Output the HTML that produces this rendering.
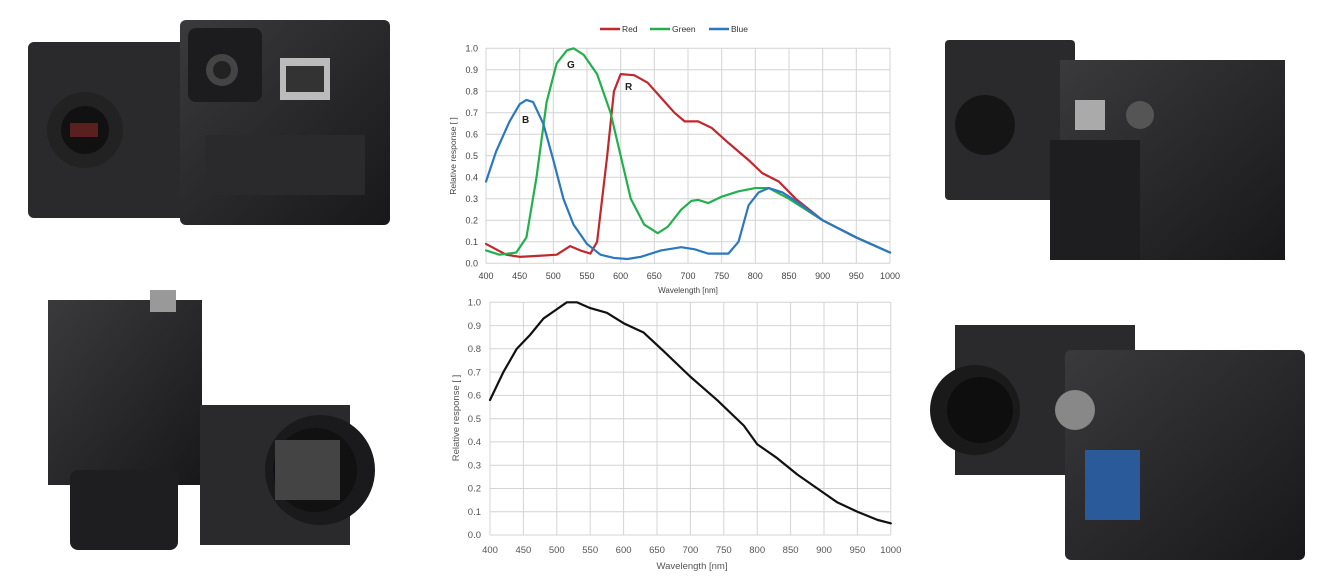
<!DOCTYPE html>
<html><head><meta charset="utf-8"><style>
html,body{margin:0;padding:0;background:#fff;}
body{width:1344px;height:582px;position:relative;overflow:hidden;font-family:"Liberation Sans",sans-serif;}
svg{position:absolute;left:0;top:0;}
text{font-family:"Liberation Sans",sans-serif;}
</style></head><body>
<svg width="1344" height="582" viewBox="0 0 1344 582">
<defs>
<linearGradient id="gd" x1="0" y1="0" x2="1" y2="1"><stop offset="0" stop-color="#3a3a3c"/><stop offset="1" stop-color="#18181a"/></linearGradient>
</defs>
<!-- Top-left camera -->
<g>
<rect x="28" y="42" width="160" height="176" rx="6" fill="#2a2a2c"/>
<rect x="180" y="20" width="210" height="205" rx="6" fill="url(#gd)"/>
<rect x="188" y="28" width="74" height="74" rx="8" fill="#1c1c1e"/>
<circle cx="222" cy="70" r="16" fill="#444"/><circle cx="222" cy="70" r="9" fill="#222"/>
<rect x="280" y="58" width="50" height="42" fill="#bbb"/><rect x="286" y="66" width="38" height="26" fill="#333"/>
<circle cx="85" cy="130" r="38" fill="#222"/><circle cx="85" cy="130" r="24" fill="#111"/><rect x="70" y="123" width="28" height="14" fill="#5a2020"/>
<rect x="205" y="135" width="160" height="60" fill="#2a2a2c"/>
</g>
<!-- Bottom-left camera -->
<g>
<rect x="48" y="300" width="154" height="185" fill="url(#gd)"/>
<rect x="70" y="470" width="108" height="80" rx="8" fill="#1e1e20"/>
<rect x="150" y="290" width="26" height="22" fill="#999"/>
<rect x="200" y="405" width="150" height="140" fill="#2a2a2c"/>
<circle cx="320" cy="470" r="55" fill="#1a1a1c"/><circle cx="315" cy="470" r="42" fill="#111"/>
<rect x="275" y="440" width="65" height="60" fill="#444"/>
</g>
<!-- Top-right camera -->
<g>
<rect x="945" y="40" width="130" height="160" rx="4" fill="#2a2a2c"/>
<circle cx="985" cy="125" r="30" fill="#151515"/>
<rect x="1060" y="60" width="225" height="200" fill="url(#gd)"/>
<rect x="1050" y="140" width="90" height="120" fill="#1e1e20"/>
<rect x="1075" y="100" width="30" height="30" fill="#aaa"/>
<circle cx="1140" cy="115" r="14" fill="#555"/>
</g>
<!-- Bottom-right camera -->
<g>
<rect x="955" y="325" width="180" height="150" fill="#2a2a2c"/>
<circle cx="975" cy="410" r="45" fill="#1a1a1a"/><circle cx="980" cy="410" r="33" fill="#0e0e0e"/>
<rect x="1065" y="350" width="240" height="210" rx="6" fill="url(#gd)"/>
<circle cx="1075" cy="410" r="20" fill="#888"/>
<rect x="1085" y="450" width="55" height="70" fill="#2a5a9a"/>
</g>

<!-- TOP CHART -->
<g stroke="#d4d4d4" stroke-width="1">
<line x1="486" y1="48.3" x2="890" y2="48.3"/><line x1="486" y1="69.8" x2="890" y2="69.8"/><line x1="486" y1="91.3" x2="890" y2="91.3"/><line x1="486" y1="112.8" x2="890" y2="112.8"/><line x1="486" y1="134.3" x2="890" y2="134.3"/><line x1="486" y1="155.8" x2="890" y2="155.8"/><line x1="486" y1="177.3" x2="890" y2="177.3"/><line x1="486" y1="198.8" x2="890" y2="198.8"/><line x1="486" y1="220.3" x2="890" y2="220.3"/><line x1="486" y1="241.8" x2="890" y2="241.8"/><line x1="486" y1="263.3" x2="890" y2="263.3"/>
<line x1="486" y1="48" x2="486" y2="263"/><line x1="519.7" y1="48" x2="519.7" y2="263"/><line x1="553.3" y1="48" x2="553.3" y2="263"/><line x1="587" y1="48" x2="587" y2="263"/><line x1="620.7" y1="48" x2="620.7" y2="263"/><line x1="654.3" y1="48" x2="654.3" y2="263"/><line x1="688" y1="48" x2="688" y2="263"/><line x1="721.7" y1="48" x2="721.7" y2="263"/><line x1="755.3" y1="48" x2="755.3" y2="263"/><line x1="789" y1="48" x2="789" y2="263"/><line x1="822.7" y1="48" x2="822.7" y2="263"/><line x1="856.3" y1="48" x2="856.3" y2="263"/><line x1="890" y1="48" x2="890" y2="263"/>
</g>
<g font-size="9" fill="#444" text-anchor="end">
<text x="478" y="51.5">1.0</text><text x="478" y="73">0.9</text><text x="478" y="94.5">0.8</text><text x="478" y="116">0.7</text><text x="478" y="137.5">0.6</text><text x="478" y="159">0.5</text><text x="478" y="180.5">0.4</text><text x="478" y="202">0.3</text><text x="478" y="223.5">0.2</text><text x="478" y="245">0.1</text><text x="478" y="266.5">0.0</text>
</g>
<g font-size="9" fill="#444" text-anchor="middle">
<text x="486" y="279">400</text><text x="519.7" y="279">450</text><text x="553.3" y="279">500</text><text x="587" y="279">550</text><text x="620.7" y="279">600</text><text x="654.3" y="279">650</text><text x="688" y="279">700</text><text x="721.7" y="279">750</text><text x="755.3" y="279">800</text><text x="789" y="279">850</text><text x="822.7" y="279">900</text><text x="856.3" y="279">950</text><text x="890" y="279">1000</text>
<text x="688" y="293" font-size="8">Wavelength [nm]</text>
</g>
<text transform="translate(456,156) rotate(-90)" font-size="8.5" fill="#444" text-anchor="middle">Relative response [ ]</text>
<g font-size="8.5" fill="#333">
<line x1="600" y1="29" x2="620" y2="29" stroke="#c0282d" stroke-width="2.5"/><text x="622" y="32">Red</text>
<line x1="650" y1="29" x2="670" y2="29" stroke="#22b04c" stroke-width="2.5"/><text x="672" y="32">Green</text>
<line x1="709" y1="29" x2="729" y2="29" stroke="#2b78c0" stroke-width="2.5"/><text x="731" y="32">Blue</text>
</g>
<g transform="translate(486,263.3) scale(0.67333,-215) translate(-400,0)" fill="none" stroke-linejoin="round" stroke-linecap="round">
<polyline vector-effect="non-scaling-stroke" stroke="#c0282d" stroke-width="2.2" points="400,.09 430,.04 450,.03 480,.035 505,.04 525,.08 540,.06 555,.045 565,.1 580,.5 590,.8 600,.88 620,.875 640,.84 660,.77 680,.7 695,.66 715,.66 735,.63 760,.56 790,.48 810,.42 835,.38 860,.3 900,.2 950,.12 1000,.05"/>
<polyline vector-effect="non-scaling-stroke" stroke="#22b04c" stroke-width="2.2" points="400,.06 420,.04 445,.05 460,.12 475,.4 490,.75 505,.93 520,.99 530,1 545,.97 565,.88 585,.7 600,.5 615,.3 635,.18 655,.14 670,.17 690,.25 705,.29 715,.295 730,.28 750,.31 775,.335 800,.35 820,.35 850,.3 900,.2 950,.12 1000,.05"/>
<polyline vector-effect="non-scaling-stroke" stroke="#2b78c0" stroke-width="2.2" points="400,.38 415,.52 435,.66 450,.74 460,.76 470,.75 485,.65 500,.48 515,.3 530,.18 550,.09 570,.04 590,.025 610,.02 630,.03 660,.06 690,.075 710,.065 730,.045 760,.045 775,.1 790,.27 805,.33 820,.35 840,.33 860,.29 900,.2 950,.12 1000,.05"/>
</g>
<g font-size="10" font-weight="bold" fill="#222"><text x="567" y="68">G</text><text x="625" y="90">R</text><text x="522" y="123">B</text></g>

<!-- BOTTOM CHART -->
<g stroke="#d4d4d4" stroke-width="1">
<line x1="490" y1="302.3" x2="891" y2="302.3"/><line x1="490" y1="325.6" x2="891" y2="325.6"/><line x1="490" y1="348.8" x2="891" y2="348.8"/><line x1="490" y1="372.1" x2="891" y2="372.1"/><line x1="490" y1="395.4" x2="891" y2="395.4"/><line x1="490" y1="418.7" x2="891" y2="418.7"/><line x1="490" y1="441.9" x2="891" y2="441.9"/><line x1="490" y1="465.2" x2="891" y2="465.2"/><line x1="490" y1="488.5" x2="891" y2="488.5"/><line x1="490" y1="511.7" x2="891" y2="511.7"/><line x1="490" y1="535" x2="891" y2="535"/>
<line x1="490" y1="302" x2="490" y2="535"/><line x1="523.4" y1="302" x2="523.4" y2="535"/><line x1="556.8" y1="302" x2="556.8" y2="535"/><line x1="590.2" y1="302" x2="590.2" y2="535"/><line x1="623.6" y1="302" x2="623.6" y2="535"/><line x1="657" y1="302" x2="657" y2="535"/><line x1="690.4" y1="302" x2="690.4" y2="535"/><line x1="723.8" y1="302" x2="723.8" y2="535"/><line x1="757.2" y1="302" x2="757.2" y2="535"/><line x1="790.6" y1="302" x2="790.6" y2="535"/><line x1="824" y1="302" x2="824" y2="535"/><line x1="857.4" y1="302" x2="857.4" y2="535"/><line x1="890.8" y1="302" x2="890.8" y2="535"/>
</g>
<g font-size="9.5" fill="#555" text-anchor="end">
<text x="481" y="305.5">1.0</text><text x="481" y="328.8">0.9</text><text x="481" y="352">0.8</text><text x="481" y="375.3">0.7</text><text x="481" y="398.6">0.6</text><text x="481" y="421.9">0.5</text><text x="481" y="445.1">0.4</text><text x="481" y="468.4">0.3</text><text x="481" y="491.7">0.2</text><text x="481" y="514.9">0.1</text><text x="481" y="538.2">0.0</text>
</g>
<g font-size="9.5" fill="#555" text-anchor="middle">
<text x="490" y="553">400</text><text x="523.4" y="553">450</text><text x="556.8" y="553">500</text><text x="590.2" y="553">550</text><text x="623.6" y="553">600</text><text x="657" y="553">650</text><text x="690.4" y="553">700</text><text x="723.8" y="553">750</text><text x="757.2" y="553">800</text><text x="790.6" y="553">850</text><text x="824" y="553">900</text><text x="857.4" y="553">950</text><text x="890.8" y="553">1000</text>
<text x="692" y="569" font-size="9.5">Wavelength [nm]</text>
</g>
<text transform="translate(459,418) rotate(-90)" font-size="9.5" fill="#555" text-anchor="middle">Relative response [ ]</text>
<g transform="translate(490,535) scale(0.668,-232.7) translate(-400,0)" fill="none" stroke-linejoin="round" stroke-linecap="round">
<polyline vector-effect="non-scaling-stroke" stroke="#111" stroke-width="2.2" points="400,.58 420,.7 440,.8 460,.86 480,.93 500,.97 515,1 530,1 550,.975 575,.955 600,.91 630,.87 660,.79 700,.68 740,.58 780,.47 800,.39 830,.33 860,.26 900,.18 920,.14 950,.1 980,.065 1000,.05"/>
</g>
</svg>
</body></html>
